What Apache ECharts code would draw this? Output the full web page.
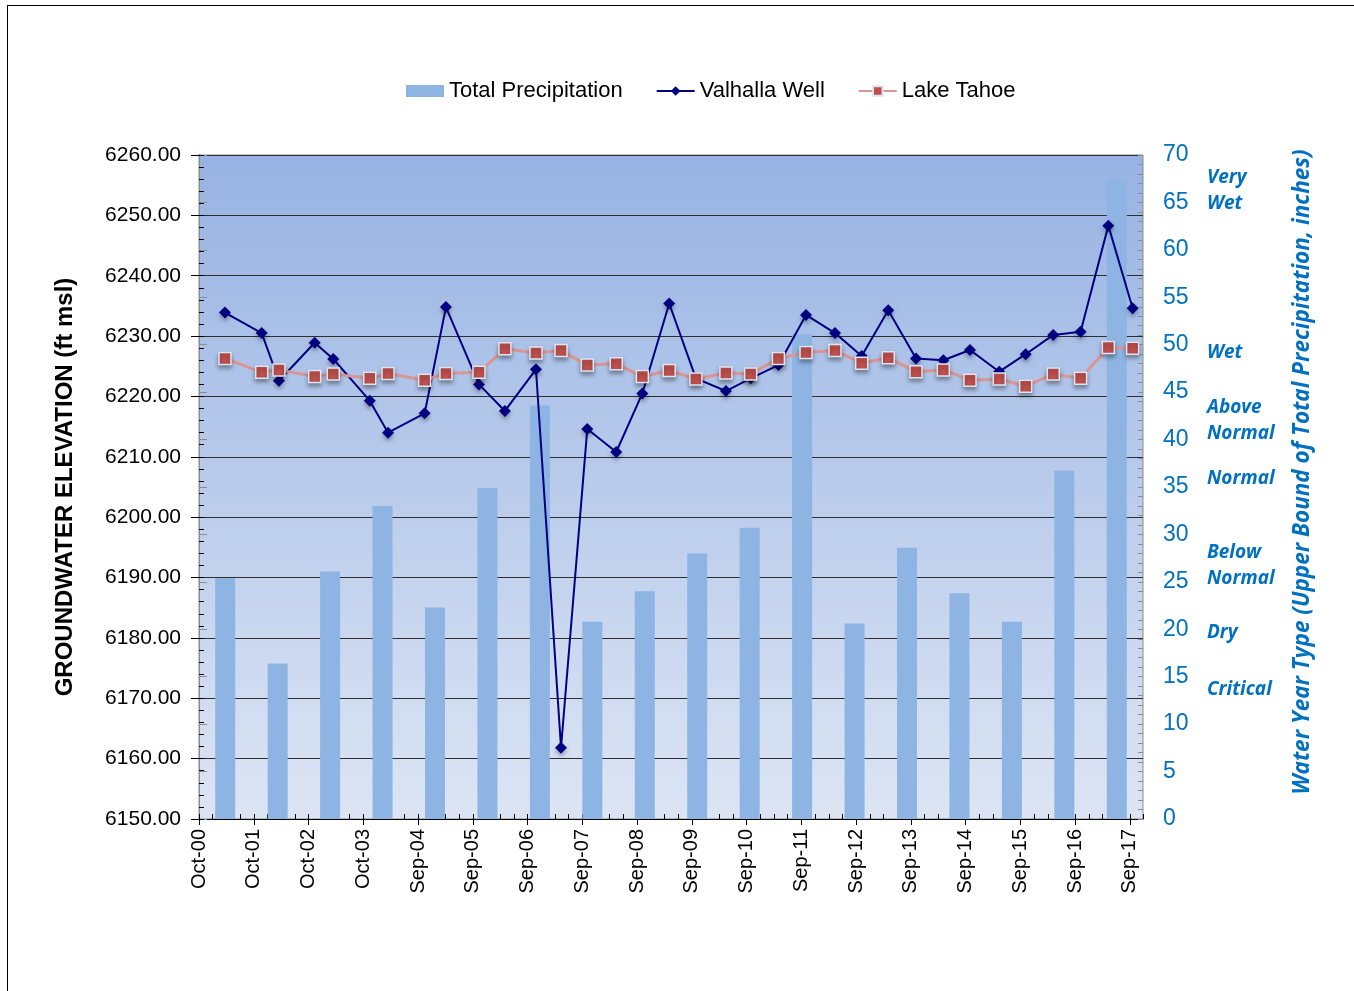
<!DOCTYPE html>
<html>
<head>
<meta charset="utf-8">
<title>Groundwater Elevation vs Precipitation</title>
<script src="https://cdn.jsdelivr.net/npm/echarts@6/dist/echarts.min.js"></script>
<style>
    html, body {
        margin: 0;
        padding: 0;
        background: #fff;
    }
    .frame {
        position: absolute;
        left: 7px;
        top: 5px;
        width: 1400px;
        height: 1000px;
        border-top: 1px solid #000;
        border-left: 1px solid #000;
    }
    #chart {
        position: absolute;
        left: 0;
        top: 0;
        width: 1354px;
        height: 991px;
    }
</style>
</head>
<body>
<div class="frame"></div>
<div id="chart"></div>
<script>
// sampling dates (shared by both level series)
const sampleDates = [
    '2001-03-23', '2001-11-23', '2002-03-18', '2002-11-11', '2003-03-15', '2003-11-13',
    '2004-03-14', '2004-11-13', '2005-04-04', '2005-11-10', '2006-05-02', '2006-11-25',
    '2007-05-11', '2007-11-02', '2008-05-13', '2008-11-03', '2009-05-01', '2009-10-26',
    '2010-05-14', '2010-10-26', '2011-04-29', '2011-10-30', '2012-05-10', '2012-11-04',
    '2013-04-30', '2013-11-01', '2014-05-02', '2014-10-27', '2015-05-10', '2015-11-02',
    '2016-05-04', '2016-11-02', '2017-05-06', '2017-10-15'
]
const valhallaWell = [
    6233.9, 6230.5, 6222.6, 6228.9, 6226.2, 6219.3,
    6214.0, 6217.2, 6234.8, 6222.0, 6217.6, 6224.5,
    6161.8, 6214.6, 6210.8, 6220.5, 6235.4, 6223.0,
    6220.9, 6223.0, 6225.2, 6233.5, 6230.5, 6226.7,
    6234.3, 6226.3, 6226.0, 6227.7, 6224.1, 6227.0,
    6230.2, 6230.7, 6248.3, 6234.6
]
const lakeTahoe = [
    6226.3, 6224.0, 6224.4, 6223.3, 6223.7, 6223.0,
    6223.8, 6222.7, 6223.8, 6224.0, 6227.9, 6227.2,
    6227.6, 6225.2, 6225.4, 6223.3, 6224.3, 6222.9,
    6223.9, 6223.7, 6226.3, 6227.3, 6227.6, 6225.5,
    6226.4, 6224.1, 6224.4, 6222.7, 6222.9, 6221.7,
    6223.7, 6223.0, 6228.1, 6228.0
]
// water years for the precipitation bars
const waterYears = [
    '2000', '2001', '2002', '2003', '2004', '2005', '2006', '2007', '2008',
    '2009', '2010', '2011', '2012', '2013', '2014', '2015', '2016', '2017'
]
const totalPrecip = [
    25.4, 16.4, 26.1, 33.0, 22.3, 34.9, 43.6, 20.8, 24.0,
    28.0, 30.7, 51.1, 20.6, 28.6, 23.8, 20.8, 36.7, 67.4
]
// water year type labels next to the right axis
const yearTypes = ['Very\nWet', 'Wet', 'Above\nNormal', 'Normal', 'Below\nNormal', 'Dry', 'Critical']
const yearTypeLevels = [66.2, 49.2, 42.0, 35.9, 26.7, 19.6, 13.6]

const DAY = 86400000
const origin = Date.UTC(2000, 9, 1) // Oct 1 2000, axis starts here
const MONTHS = ['Jan', 'Feb', 'Mar', 'Apr', 'May', 'Jun', 'Jul', 'Aug', 'Sep', 'Oct', 'Nov', 'Dec']

function toDays(s) {
    const p = s.split('-').map(Number)
    return (Date.UTC(p[0], p[1] - 1, p[2]) - origin) / DAY
}

function dayLabel(v) {
    const d = new Date(origin + Math.round(v) * DAY)
    return MONTHS[d.getUTCMonth()] + '-' + String(d.getUTCFullYear() % 100).padStart(2, '0')
}

const xDays = sampleDates.map(toDays)
const valhallaData = xDays.map((x, i) => [x, valhallaWell[i]])
const tahoeData = xDays.map((x, i) => [x, lakeTahoe[i]])

const FONT = 'Liberation Sans, Arial, sans-serif'
const BLUE = '#0070C0'
const X_MAX = 6292

const chart = echarts.init(document.getElementById('chart'))

const option = {
    animation: false,
    textStyle: { fontFamily: FONT },
    legend: {
        left: 401,
        top: 75,
        itemWidth: 38,
        itemHeight: 12,
        itemGap: 33,
        textStyle: { fontSize: 22, color: '#000', fontFamily: FONT },
        data: [
            { name: 'Total Precipitation', icon: 'rect' },
            'Valhalla Well',
            'Lake Tahoe'
        ]
    },
    grid: {
        left: 199,
        right: 211,
        top: 155,
        bottom: 172,
        show: true,
        borderColor: '#8c8c8c',
        borderWidth: 1,
        backgroundColor: new echarts.graphic.LinearGradient(0, 0, 0, 1, [
            { offset: 0, color: '#97B3E3' },
            { offset: 1, color: '#DDE5F4' }
        ])
    },
    xAxis: [
        {
            type: 'value',
            position: 'bottom',
            min: 0,
            max: X_MAX,
            interval: 365,
            axisLine: { show: true, lineStyle: { color: '#000', width: 1 } },
            axisTick: { show: true, length: 6, lineStyle: { color: '#000' } },
            axisLabel: {
                rotate: 90,
                fontSize: 20,
                color: '#000',
                margin: 10,
                showMaxLabel: false,
                formatter: dayLabel
            },
            splitLine: { show: false }
        },
        {
            // bars sit on their own category axis
            type: 'category',
            position: 'top',
            data: waterYears,
            show: false
        },
        {
            // quarterly minor ticks pointing into the plot
            type: 'value',
            position: 'bottom',
            min: 0,
            max: X_MAX,
            interval: 91.25,
            axisLine: { show: false },
            axisTick: { show: true, inside: true, length: 5, lineStyle: { color: '#000' } },
            axisLabel: { show: false },
            splitLine: { show: false }
        }
    ],
    yAxis: [
        {
            type: 'value',
            position: 'left',
            min: 6150,
            max: 6260,
            interval: 10,
            name: 'GROUNDWATER ELEVATION (ft msl)',
            nameLocation: 'middle',
            nameGap: 122,
            nameTextStyle: { fontSize: 24, fontWeight: 'bold', color: '#000', fontFamily: FONT },
            axisLine: { show: true, lineStyle: { color: '#000', width: 1 } },
            axisTick: { show: true, length: 8, lineStyle: { color: '#000' } },
            axisLabel: {
                fontSize: 21,
                color: '#000',
                margin: 18,
                formatter: v => v.toFixed(2)
            },
            splitLine: { show: true, lineStyle: { color: '#2e2e2e', width: 1 } }
        },
        {
            type: 'value',
            position: 'right',
            min: 0,
            max: 70,
            interval: 5,
            name: 'Water Year Type (Upper Bound of Total Precipitation, inches)',
            nameLocation: 'middle',
            nameRotate: 90,
            nameGap: 148,
            nameTextStyle: {
                fontSize: 22.5,
                fontWeight: 'bold',
                fontStyle: 'italic',
                color: BLUE,
                fontFamily: 'Open Sans',
                padding: [0, 0, 0, 30]
            },
            axisLine: { show: true, lineStyle: { color: '#8c8c8c', width: 1 } },
            axisTick: { show: true, length: 8, lineStyle: { color: '#8c8c8c' } },
            axisLabel: { fontSize: 23, color: BLUE, margin: 20 },
            splitLine: { show: false }
        },
        {
            type: 'value',
            position: 'left',
            min: 6150,
            max: 6260,
            interval: 2,
            axisLine: { show: false },
            axisTick: { show: true, inside: true, length: 5, lineStyle: { color: '#000' } },
            axisLabel: { show: false },
            splitLine: { show: false }
        },
        {
            type: 'value',
            position: 'right',
            min: 0,
            max: 70,
            interval: 1,
            axisLine: { show: false },
            axisTick: { show: true, inside: true, length: 5, lineStyle: { color: '#8c8c8c' } },
            axisLabel: { show: false },
            splitLine: { show: false }
        }
    ],
    series: [
        {
            name: 'Total Precipitation',
            type: 'bar',
            xAxisIndex: 1,
            yAxisIndex: 1,
            data: totalPrecip,
            barWidth: 20,
            itemStyle: { color: '#8DB4E2' }
        },
        {
            name: 'Valhalla Well',
            type: 'line',
            xAxisIndex: 0,
            yAxisIndex: 0,
            data: valhallaData,
            symbol: 'diamond',
            symbolSize: 12,
            showAllSymbol: true,
            lineStyle: { color: '#000080', width: 2 },
            itemStyle: {
                color: '#000080',
                shadowColor: 'rgba(0,0,0,0.3)',
                shadowBlur: 4,
                shadowOffsetY: 3
            }
        },
        {
            name: 'Lake Tahoe',
            type: 'line',
            xAxisIndex: 0,
            yAxisIndex: 0,
            data: tahoeData,
            symbol: 'rect',
            symbolSize: 12,
            showAllSymbol: true,
            lineStyle: { color: '#D99694', width: 3 },
            itemStyle: {
                color: '#C0504D',
                borderColor: '#DCE6F2',
                borderWidth: 1.5,
                shadowColor: 'rgba(0,0,0,0.35)',
                shadowBlur: 4,
                shadowOffsetY: 3
            }
        }
    ]
}

chart.setOption(option)

// place the water year type labels at their precipitation levels
const typeLabels = yearTypes.map((t, i) => ({
    type: 'text',
    left: 1207,
    y: chart.convertToPixel({ yAxisIndex: 1 }, yearTypeLevels[i]),
    style: {
        text: t,
        fill: BLUE,
        font: 'italic bold 19px "Open Sans"',
        lineHeight: 26,
        verticalAlign: 'middle'
    }
}))
chart.setOption({ graphic: typeLabels })

window.addEventListener('resize', () => {
    chart.resize()
})
</script>
</body>
</html>
